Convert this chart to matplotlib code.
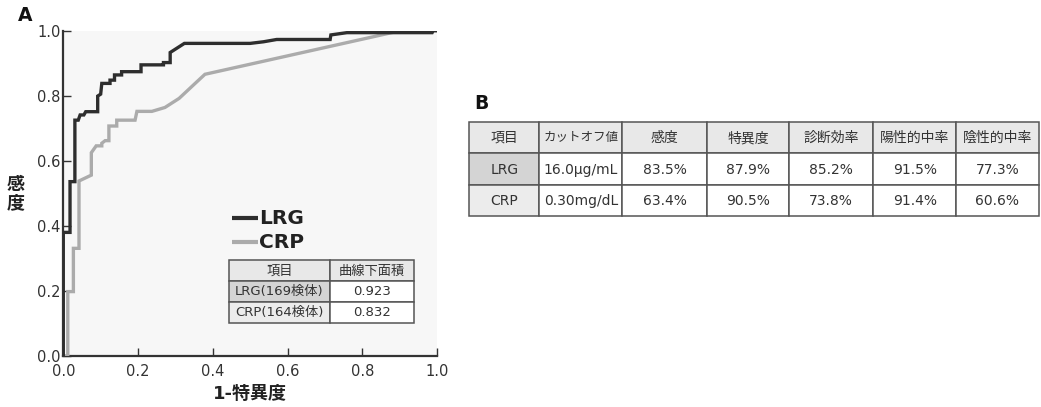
import matplotlib
matplotlib.use("Agg")
import matplotlib.pyplot as plt
from matplotlib.patches import Rectangle

FONTS = ['DejaVu Sans', 'Noto Sans CJK JP']
plt.rcParams['font.family'] = FONTS

# ROC curve vertices (1 - specificity, sensitivity)
lrg_fpr = [0.0, 0.0, 0.018, 0.018, 0.031, 0.031, 0.040, 0.045, 0.055, 0.060, 0.092,
           0.092, 0.100, 0.103, 0.125, 0.125, 0.137, 0.137, 0.156, 0.156, 0.208,
           0.208, 0.268, 0.268, 0.286, 0.286, 0.324, 0.500, 0.536, 0.571, 0.714,
           0.716, 0.759, 0.987, 0.990, 1.0]
lrg_tpr = [0.0, 0.380, 0.380, 0.536, 0.536, 0.725, 0.725, 0.741, 0.741, 0.751, 0.751,
           0.799, 0.805, 0.838, 0.838, 0.848, 0.848, 0.864, 0.864, 0.874, 0.874,
           0.895, 0.895, 0.902, 0.902, 0.933, 0.961, 0.961, 0.966, 0.973, 0.973,
           0.987, 0.994, 0.994, 1.0, 1.0]

crp_fpr = [0.0, 0.012, 0.012, 0.027, 0.027, 0.042, 0.042, 0.075, 0.075, 0.088, 0.103,
           0.103, 0.112, 0.122, 0.122, 0.143, 0.143, 0.192, 0.197, 0.237, 0.272,
           0.310, 0.350, 0.379, 0.902, 1.0]
crp_tpr = [0.0, 0.0, 0.198, 0.198, 0.331, 0.331, 0.538, 0.556, 0.625, 0.646, 0.646,
           0.654, 0.662, 0.662, 0.707, 0.707, 0.725, 0.725, 0.752, 0.752, 0.764,
           0.792, 0.835, 0.866, 1.0, 1.0]

tick_values = [0.0, 0.2, 0.4, 0.6, 0.8, 1.0]
tick_labels = ['0.0', '0.2', '0.4', '0.6', '0.8', '1.0']

series_names = ['LRG', 'CRP']
series_colors = ['#2e2e2e', '#ababab']

# AUC summary table
auc_header = ['項目', '曲線下面積']
auc_rows = [['LRG(169検体)', '0.923'],
            ['CRP(164検体)', '0.832']]

# Diagnostic performance table
perf_header = ['項目', 'カットオフ値', '感度', '特異度', '診断効率', '陽性的中率', '陰性的中率']
perf_rows = [['LRG', '16.0μg/mL', '83.5%', '87.9%', '85.2%', '91.5%', '77.3%'],
             ['CRP', '0.30mg/dL', '63.4%', '90.5%', '73.8%', '91.4%', '60.6%']]

W, H = 1041, 407
fig = plt.figure(figsize=(W / 100, H / 100), dpi=100)
ax = fig.add_axes([63.3 / W, 1 - 356 / H, 373.7 / W, 325.3 / H])
ax.set_facecolor('#f7f7f7')

ax.plot(crp_fpr, crp_tpr, color=series_colors[1], lw=2.4, solid_joinstyle='miter', zorder=3)
ax.plot(lrg_fpr, lrg_tpr, color=series_colors[0], lw=2.4, solid_joinstyle='miter', zorder=4)

ax.set_xlim(0, 1)
ax.set_ylim(0, 1)
ax.set_xticks(tick_values)
ax.set_xticklabels(tick_labels)
ax.set_yticks(tick_values)
ax.set_yticklabels(tick_labels)
for s in ['top', 'right']:
    ax.spines[s].set_visible(False)
for s in ['left', 'bottom']:
    ax.spines[s].set_color('#333333')
    ax.spines[s].set_linewidth(1.6)
ax.tick_params(axis='both', direction='in', length=6, width=1.0, color='#333333',
               labelsize=10.5, labelcolor='#333333')
ax.tick_params(axis='x', pad=6)
ax.tick_params(axis='y', pad=2)

ax.set_xlabel('1-特異度', fontsize=13, fontweight='bold', color='#222222', labelpad=4)
ax.set_ylabel('感\n度', fontsize=13, fontweight='bold', color='#222222',
              rotation=0, linespacing=1.0, va='center', ha='center')
ax.yaxis.set_label_coords((16 - 63.3) / 373.7, (356 - 194) / 325.3)

# Overlay in pixel coordinates for panel labels, legend and tables
ov = fig.add_axes([0, 0, 1, 1], zorder=10)
ov.set_xlim(0, W)
ov.set_ylim(H, 0)
ov.axis('off')
ov.patch.set_alpha(0)

ov.text(25.5, 15.5, 'A', fontsize=13.5, fontweight='bold', ha='center', va='center', color='#111111')
ov.text(481.5, 103.5, 'B', fontsize=13.5, fontweight='bold', ha='center', va='center', color='#111111')

# legend
for name, color, y in zip(series_names, series_colors, [218.3, 241.7]):
    ov.plot([231.7, 258.3], [y, y], color=color, lw=3.0, solid_capstyle='butt')
    ov.text(259.0, y + 0.5, name, fontsize=14.5, fontweight='bold', ha='left', va='center',
            color='#222222')


def draw_table(axis, col_edges, row_edges, header, rows, fills, fontsize, sizes=None):
    cells = [header] + rows
    for r in range(len(cells)):
        for c in range(len(cells[r])):
            x0, x1 = col_edges[c], col_edges[c + 1]
            y0, y1 = row_edges[r], row_edges[r + 1]
            axis.add_patch(Rectangle((x0, y0), x1 - x0, y1 - y0, facecolor=fills[r][c],
                                     edgecolor='#555555', lw=1.1))
            fs = fontsize
            if sizes is not None and (r, c) in sizes:
                fs = sizes[(r, c)]
            axis.text((x0 + x1) / 2, (y0 + y1) / 2 + 0.5, cells[r][c], fontsize=fs,
                      ha='center', va='center', color='#333333', family=FONTS)


HDR = '#e8e8e8'
DARK = '#d4d4d4'
LIGHT = '#ececec'
WHITE = '#ffffff'

draw_table(ov, [229, 330, 414], [260, 281, 301.7, 322.7], auc_header, auc_rows,
           [[HDR, HDR], [DARK, WHITE], [LIGHT, WHITE]], 9.5)

draw_table(ov, [469.3, 539.3, 622.3, 706.7, 789.3, 873.3, 956, 1039],
           [121.7, 153.3, 185, 216], perf_header, perf_rows,
           [[HDR] * 7, [DARK] + [WHITE] * 6, [LIGHT] + [WHITE] * 6], 10,
           sizes={(0, 1): 9})

fig.savefig('out.png', dpi=100, facecolor='white')
